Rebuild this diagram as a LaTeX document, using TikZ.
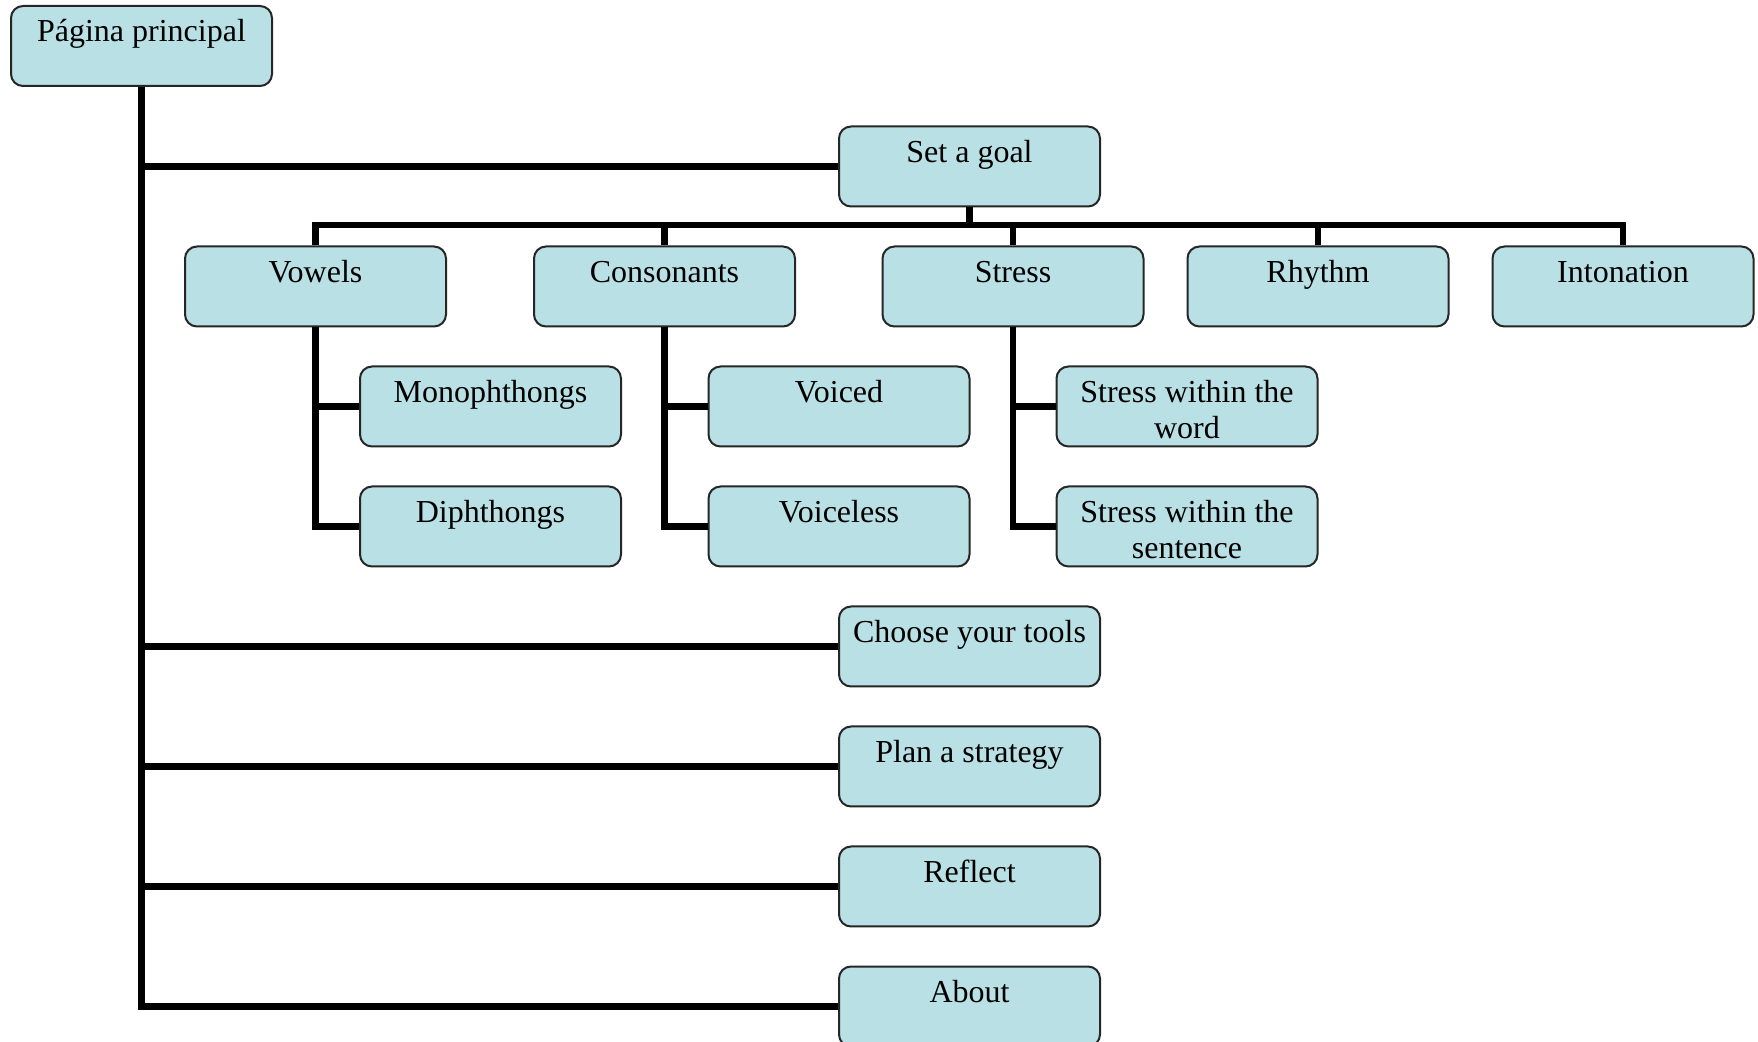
\documentclass[tikz,border=0pt]{standalone}
\usepackage{fontspec}
\setmainfont{Liberation Serif}
\definecolor{boxfill}{RGB}{185,224,228}
\tikzset{
  box/.style={draw=black!85, line width=1pt, rectangle, rounded corners=6pt, fill=boxfill,
    minimum width=130.5pt, minimum height=40pt, inner xsep=2pt, inner ysep=0pt, align=center,
    text height=18pt, text depth=22pt, font=\fontsize{16}{18}\selectfont},
  box two/.style={box, text height=36pt, text depth=4pt}, % two lines of text
  link/.style={line width=3.3pt, black}
}

\begin{document}
\begin{tikzpicture}[x=0.5pt, y=-0.5pt]
\useasboundingbox (0,0) rectangle (1758,1042);

% The boxes
\node[box] (main) at (141.5,46) {Página principal};
\node[box] (goal) at (969.5,166.5) {Set a goal};

\node[box] (vowels) at (315.5,286.5) {Vowels};
\node[box] (consonants) at (664.5,286.5) {Consonants};
\node[box] (stress) at (1013,286.5) {Stress};
\node[box] (rhythm) at (1318,286.5) {Rhythm};
\node[box] (intonation) at (1623,286.5) {Intonation};

\node[box] (mono) at (490.5,406.5) {Monophthongs};
\node[box] (diph) at (490.5,526.5) {Diphthongs};
\node[box] (voiced) at (839,406.5) {Voiced};
\node[box] (voiceless) at (839,526.5) {Voiceless};
\node[box two] (word) at (1187,406.5) {Stress within the\\word};
\node[box two] (sentence) at (1187,526.5) {Stress within the\\sentence};

\node[box] (tools) at (969.5,646.5) {Choose your tools};
\node[box] (plan) at (969.5,766.5) {Plan a strategy};
\node[box] (reflect) at (969.5,886.5) {Reflect};
\node[box] (about) at (969.5,1006.5) {About};

\coordinate (bus) at (969.5,225);

% The connections
\foreach \n in {goal,tools,plan,reflect,about}
  \draw[link] (main) |- (\n);

\foreach \n in {vowels,consonants,stress,rhythm,intonation}
  \draw[link] (goal) -- (bus) -| (\n);

\draw[link] (vowels) |- (mono);
\draw[link] (vowels) |- (diph);
\draw[link] (consonants) |- (voiced);
\draw[link] (consonants) |- (voiceless);
\draw[link] (stress) |- (word);
\draw[link] (stress) |- (sentence);

\end{tikzpicture}
\end{document}
